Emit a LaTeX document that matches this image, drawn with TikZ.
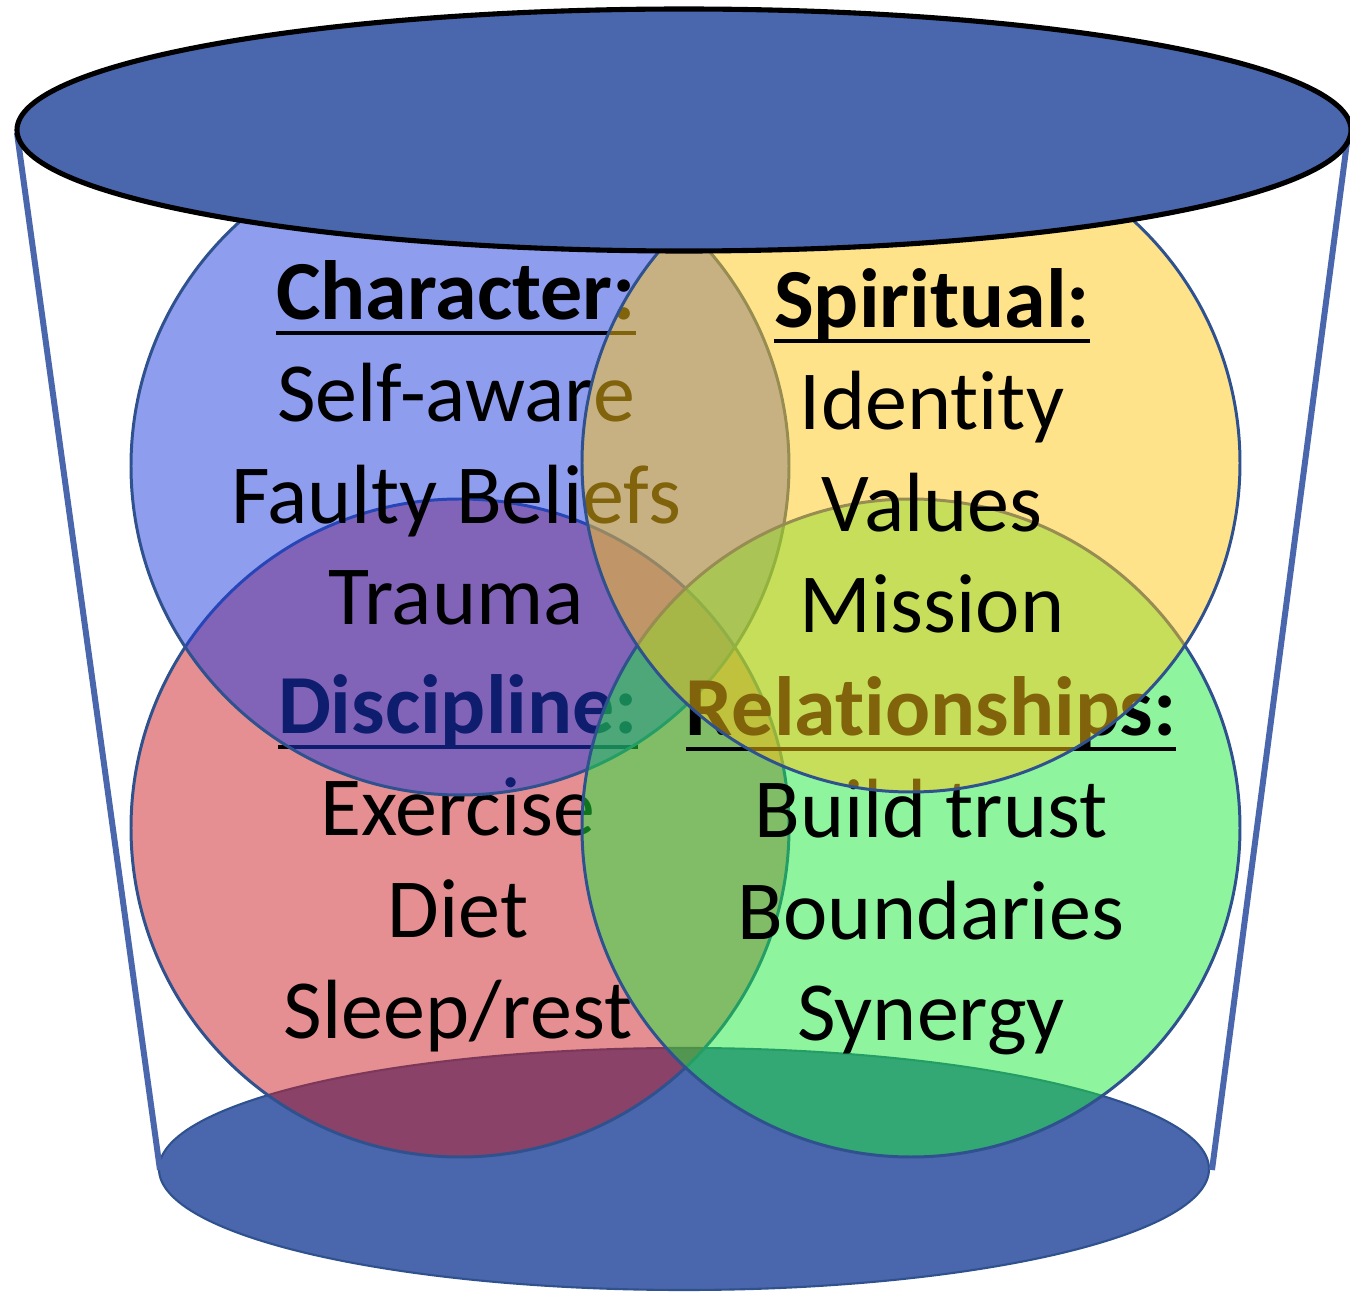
\documentclass[tikz,border=0pt]{standalone}
\usepackage{fontspec}
\setmainfont{Carlito}[Ligatures=NoCommon]
\definecolor{bucket}{HTML}{4A66AC}
\definecolor{rim}{HTML}{2F528F}
\definecolor{charblue}{RGB}{31,59,223}
\definecolor{spiryellow}{RGB}{255,199,23}
\definecolor{discred}{RGB}{203,31,37}
\definecolor{relgreen}{RGB}{29,235,61}
% bold heading with a rule that runs through the descenders
\newcommand{\heading}[1]{\setbox0\hbox{\bfseries #1}\rlap{\rule[-0.19em]{\wd0}{0.05em}}\box0}

\begin{document}
\begin{tikzpicture}[x=0.01cm, y=0.01cm,
  venn/.style={draw=rim, line width=0.85pt, fill opacity=0.5},
  words/.style={inner sep=0pt, anchor=base, align=center,
    font=\fontsize{23.9}{29}\selectfont}]
\useasboundingbox (0,0) rectangle (1350,-1294);
% bottom of the bucket and its sides
\filldraw[fill=bucket, draw=rim, line width=0.6pt] (684,-1169) ellipse [x radius=525, y radius=121];
\draw[bucket, line width=1.7pt] (17,-133) -- (160,-1170);
\draw[bucket, line width=1.7pt] (1348,-135) -- (1212,-1170);
% the four circles, each with its list (anchored at the last line)
\filldraw[venn, fill=discred] (460,-828) circle [radius=329];
\node[words] (disc) at (458,-1039) {\heading{Discipline:}\\Exercise\\Diet\\Sleep/rest};
\filldraw[venn, fill=charblue] (460,-466) circle [radius=329];
\node[words] (char) at (456,-625) {\heading{Character:}\\Self-aware\\Faulty Beliefs\\Trauma};
\filldraw[venn, fill=relgreen] (911,-828) circle [radius=329];
\node[words] (rel) at (931,-1041) {\heading{Relationships:}\\Build trust\\Boundaries\\Synergy};
\filldraw[venn, fill=spiryellow] (911,-463) circle [radius=329];
\node[words] (spir) at (932,-633) {\heading{Spiritual:}\\Identity\\Values\\Mission};
% rim on top
\filldraw[fill=bucket, draw=black, line width=1.45pt] (684,-130) ellipse [x radius=667, y radius=121];
\end{tikzpicture}
\end{document}
